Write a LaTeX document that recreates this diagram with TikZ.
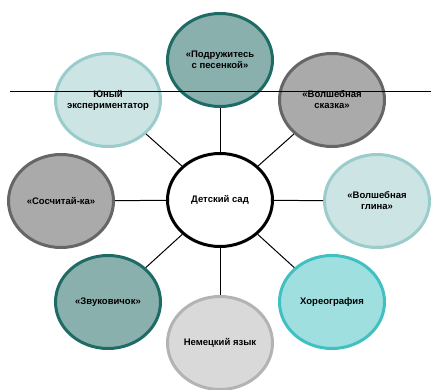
\documentclass[tikz,border=0pt]{standalone}
\usepackage{fontspec}
\setmainfont{Liberation Sans}
\usetikzlibrary{shapes.geometric}

\definecolor{tealdark}{HTML}{1E6B66}
\definecolor{tealmid}{HTML}{8AB0AE}
\definecolor{tealpale}{HTML}{CDE4E4}
\definecolor{tealedge}{HTML}{9ACCCB}
\definecolor{greymid}{HTML}{AAAAAA}
\definecolor{greyedge}{HTML}{666666}
\definecolor{greylight}{HTML}{D9D9D9}
\definecolor{greylightedge}{HTML}{B3B3B3}
\definecolor{aquafill}{HTML}{A0DFDF}
\definecolor{aquaedge}{HTML}{40C0C0}

\tikzset{
  club/.style={ellipse, minimum width=105pt, minimum height=93pt, line width=3pt,
    align=center, font=\fontsize{9.5}{11}\selectfont\bfseries,
    inner xsep=-5pt, inner ysep=0pt},
  darkclub/.style={club, draw=tealdark, fill=tealmid},
  paleclub/.style={club, draw=tealedge, fill=tealpale},
  greyclub/.style={club, draw=greyedge, fill=greymid},
  lightclub/.style={club, draw=greylightedge, fill=greylight},
  aquaclub/.style={club, draw=aquaedge, fill=aquafill},
  spoke/.style={line width=1pt}
}

\begin{document}
\begin{tikzpicture}[x=1pt,y=-1pt]
			\useasboundingbox (0,0) rectangle (431,390);
			% centre
			\node (sad) at (220,200) [club, draw=black, fill=white] {Детский сад};
			% clubs round it
			\node (pesnya) at (220,60) [darkclub] {«Подружитесь\\с песенкой»};
			\node (skazka) at (332,100) [greyclub] {«Волшебная\\сказка»};
			\node (glina) at (377,201) [paleclub] {«Волшебная\\глина»};
			\node (horeo) at (332,302) [aquaclub] {Хореография};
			\node (nemets) at (220,343) [lightclub] {Немецкий язык};
			\node (zvuk) at (108,302) [darkclub] {«Звуковичок»};
			\node (schet) at (61,201) [greyclub] {«Сосчитай-ка»};
			\node (yuny) at (108,100) [paleclub] {Юный\\экспериментатор};
			% spokes
			\draw [spoke] (sad) -- (pesnya);
			\draw [spoke] (sad) -- (skazka);
			\draw [spoke] (sad) -- (glina);
			\draw [spoke] (sad) -- (horeo);
			\draw [spoke] (sad) -- (nemets);
			\draw [spoke] (sad) -- (zvuk);
			\draw [spoke] (sad) -- (schet);
			\draw [spoke] (sad) -- (yuny);
			% stray rule across the top
			\coordinate (ruleL) at (10,91.5);
			\coordinate (ruleR) at (431,91.5);
			\draw [line width=0.8pt] (ruleL) -- (ruleR);
\end{tikzpicture}
\end{document}
